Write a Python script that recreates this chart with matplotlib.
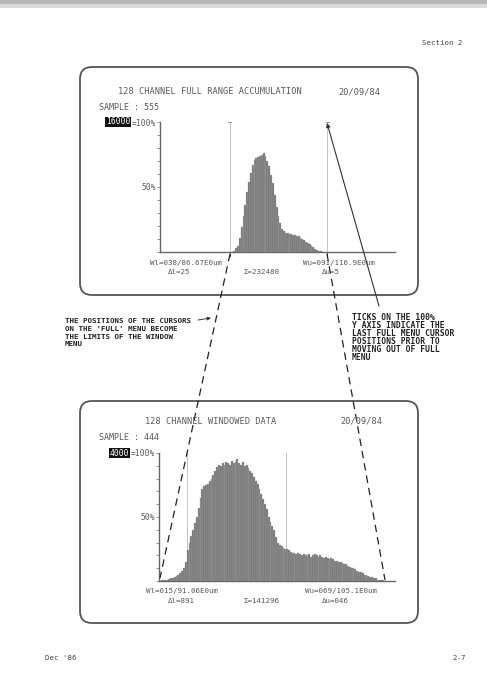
import numpy as np
import matplotlib
matplotlib.use("Agg")
import matplotlib.pyplot as plt
from matplotlib.patches import FancyBboxPatch, Rectangle

# ---------------- data ----------------
full_channels = list(range(40, 88))
full_values = [0.01, 0.03, 0.05, 0.11, 0.19, 0.28, 0.36, 0.46, 0.54, 0.61,
               0.67, 0.71, 0.72, 0.73, 0.74, 0.75, 0.76, 0.74, 0.70, 0.66,
               0.59, 0.53, 0.44, 0.35, 0.28, 0.22, 0.18, 0.16, 0.15, 0.145,
               0.14, 0.14, 0.13, 0.13, 0.12, 0.12, 0.11, 0.10, 0.09, 0.08,
               0.07, 0.06, 0.05, 0.035, 0.025, 0.015, 0.01, 0.005]

win_channels = list(range(0, 123))
win_values = [0.0, 0.005, 0.005, 0.01, 0.01, 0.015, 0.02, 0.025, 0.03, 0.04,
              0.05, 0.06, 0.08, 0.10, 0.15, 0.24, 0.30, 0.35, 0.40, 0.45,
              0.50, 0.57, 0.65, 0.72, 0.74, 0.75, 0.76, 0.78, 0.80, 0.83,
              0.86, 0.89, 0.91, 0.90, 0.92, 0.91, 0.93, 0.92, 0.91, 0.94,
              0.92, 0.93, 0.95, 0.92, 0.91, 0.93, 0.90, 0.91, 0.88, 0.86,
              0.84, 0.81, 0.78, 0.76, 0.72, 0.68, 0.64, 0.60, 0.56, 0.50,
              0.46, 0.43, 0.40, 0.34, 0.30, 0.28, 0.27, 0.26, 0.25, 0.25,
              0.24, 0.23, 0.22, 0.22, 0.21, 0.22, 0.21, 0.20, 0.21, 0.20,
              0.20, 0.21, 0.19, 0.20, 0.21, 0.20, 0.19, 0.20, 0.19, 0.18,
              0.19, 0.18, 0.17, 0.18, 0.17, 0.16, 0.16, 0.15, 0.15, 0.14,
              0.13, 0.13, 0.12, 0.11, 0.10, 0.10, 0.09, 0.08, 0.07, 0.07,
              0.06, 0.05, 0.05, 0.04, 0.03, 0.03, 0.02, 0.02, 0.01, 0.01,
              0.005, 0.005, 0.0]

full_cursors = [38, 91]
win_cursors = [15, 69]

top_title = "128 CHANNEL FULL RANGE ACCUMULATION"
bot_title = "128 CHANNEL WINDOWED DATA"
date_text = "20/09/84"
top_sample = "SAMPLE : 555"
bot_sample = "SAMPLE : 444"
top_full = "16000"
bot_full = "4000"
top_wl, top_dl, top_sum, top_wu, top_du = "Wl=038/86.67E0um", "\u0394l=25", "\u03a3=232480", "Wu=091/116.9E0um", "\u0394u=5"
bot_wl, bot_dl, bot_sum, bot_wu, bot_du = "Wl=015/91.06E0um", "\u0394l=891", "\u03a3=141296", "Wu=069/105.1E0um", "\u0394u=046"

left_note = ["THE POSITIONS OF THE CURSORS", "ON THE 'FULL' MENU BECOME",
             "THE LIMITS OF THE WINDOW", "MENU"]
right_note = ["TICKS ON THE 100%", "Y AXIS INDICATE THE", "LAST FULL MENU CURSOR",
              "POSITIONS PRIOR TO", "MOVING OUT OF FULL", "MENU"]

W, H = 487, 687
fig = plt.figure(figsize=(W / 100, H / 100), dpi=100)
fig.patch.set_facecolor("white")

SCREEN = "#5a5a5a"
MONO = "DejaVu Sans Mono"


def rect(x0, y0, x1, y1):
    return [x0 / W, 1 - y1 / H, (x1 - x0) / W, (y1 - y0) / H]


def hist_axes(r, chans, vals, cursors, tick_top):
    ax = fig.add_axes(r)
    ax.bar(chans, vals, width=1.0, align="edge", color="#767676",
           edgecolor="#aaaaaa", linewidth=0.25, zorder=2)
    for c in cursors:
        ax.plot([c, c], [0, 1.0], color="#c4c4c4", lw=0.7, zorder=1,
                clip_on=False)
        if tick_top:
            ax.plot([c - 0.8, c + 0.8], [1.0, 1.0], color="#888888", lw=0.6,
                    clip_on=False)
            ax.plot([c, c], [-0.03, 0.0], color="#555555", lw=0.7,
                    clip_on=False)
    ax.set_xlim(0, 128)
    ax.set_ylim(0, 1.0)
    for s in ["top", "right"]:
        ax.spines[s].set_visible(False)
    ax.spines["left"].set_color("#666666")
    ax.spines["bottom"].set_color("#666666")
    ax.spines["left"].set_linewidth(1.0)
    ax.spines["bottom"].set_linewidth(1.0)
    ax.set_xticks([])
    ax.set_yticks(np.arange(0, 1.01, 0.1))
    labels = [""] * 11
    labels[5] = "50%"
    labels[10] = "=100%"
    ax.set_yticklabels(labels, fontfamily=MONO, fontsize=5.8, color=SCREEN)
    ax.tick_params(axis="y", length=2, width=0.6, color="#888888", pad=1)
    ax.patch.set_alpha(0)
    return ax


hist_axes(rect(160, 122, 395, 252), full_channels, full_values, full_cursors, True)
hist_axes(rect(159, 453, 395, 581), win_channels, win_values, win_cursors, False)

# overlay in pixel coordinates
ov = fig.add_axes([0, 0, 1, 1], zorder=5)
ov.set_xlim(0, W)
ov.set_ylim(H, 0)
ov.axis("off")
ov.patch.set_alpha(0)

# page shading
ov.add_patch(Rectangle((0, 0), W, 4, color="#b8b8b8", lw=0))
ov.add_patch(Rectangle((0, 4), W, 4, color="#dcdcdc", lw=0))

# screen frames
for (x0, y0, x1, y1) in [(80, 67, 418, 295), (80, 401, 418, 623)]:
    ov.add_patch(FancyBboxPatch((x0, y0), x1 - x0, y1 - y0,
                                boxstyle="round,pad=0,rounding_size=12",
                                fill=False, ec="#555555", lw=1.3))


def t(x, y, s, **kw):
    d = dict(fontfamily=MONO, fontsize=6.0, color=SCREEN, va="center", ha="left")
    d.update(kw)
    ov.text(x, y, s, **d)


SMALL = 5.4
# top screen text
t(118, 92, top_title, fontsize=6.2)
t(338, 92, date_text, fontsize=6.2)
t(99, 108, top_sample)
t(130, 122, top_full, ha="right", color="white", fontsize=5.8,
  bbox=dict(boxstyle="square,pad=0.12", fc="#111111", ec="none"))
t(150, 262.5, top_wl, fontsize=SMALL)
t(168, 272.5, top_dl, fontsize=SMALL)
t(243, 272.5, top_sum, fontsize=SMALL)
t(303, 262.5, top_wu, fontsize=SMALL)
t(322, 272.5, top_du, fontsize=SMALL)

# bottom screen text
t(145, 421, bot_title, fontsize=6.2)
t(340, 421, date_text, fontsize=6.2)
t(99, 437, bot_sample)
t(129, 453, bot_full, ha="right", color="white", fontsize=5.8,
  bbox=dict(boxstyle="square,pad=0.12", fc="#111111", ec="none"))
t(146, 591.5, bot_wl, fontsize=SMALL)
t(168, 601, bot_dl, fontsize=SMALL)
t(243, 601, bot_sum, fontsize=SMALL)
t(305, 591.5, bot_wu, fontsize=SMALL)
t(322, 601, bot_du, fontsize=SMALL)

# dashed projection lines
ov.plot([230, 160], [254, 578], color="#222222", lw=0.9, ls=(0, (6, 4)))
ov.plot([327, 385], [254, 580], color="#222222", lw=0.9, ls=(0, (6, 4)))

# solid arrow to top tick
ov.annotate("", xy=(327, 123), xytext=(379, 306),
            arrowprops=dict(arrowstyle="-|>", color="#333333", lw=0.8,
                            mutation_scale=6, shrinkA=0, shrinkB=0))
# small arrow to left dashed line
ov.annotate("", xy=(211, 318), xytext=(198, 320),
            arrowprops=dict(arrowstyle="-|>", color="#333333", lw=0.7,
                            mutation_scale=5, shrinkA=0, shrinkB=0))

# annotations
for i, line in enumerate(left_note):
    ov.text(65, 321 + i * 7.8, line, fontfamily=MONO, fontweight="bold",
            fontsize=5.4, color="#222222", va="center", ha="left")
for i, line in enumerate(right_note):
    ov.text(352, 318 + i * 8, line, fontfamily=MONO, fontweight="bold",
            fontsize=5.8, color="#222222", va="center", ha="left")

# page text
ov.text(422, 43, "Section 2", fontfamily=MONO, fontsize=5.3, color="#444444",
        va="center", ha="left")
ov.text(45, 658, "Dec '86", fontfamily=MONO, fontsize=5.3, color="#444444",
        va="center", ha="left")
ov.text(452, 658, "2-7", fontfamily=MONO, fontsize=5.3, color="#444444",
        va="center", ha="left")

fig.savefig("out.png", dpi=100, facecolor="white")
